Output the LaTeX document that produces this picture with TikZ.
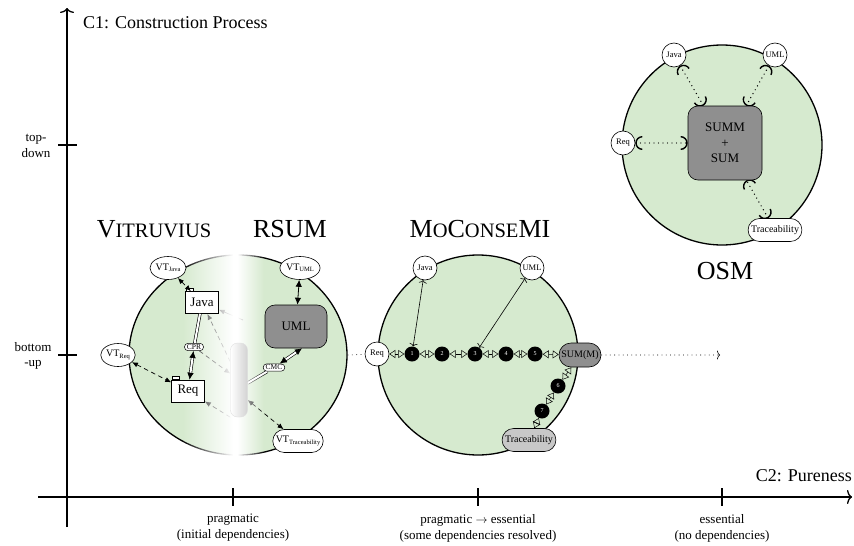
\documentclass[tikz,border=0pt]{standalone}
\usepackage{fontspec}
\setmainfont{Liberation Serif}
\usetikzlibrary{arrows.meta,shapes.geometric,shapes.misc,calc,fadings}
\definecolor{zonegreen}{RGB}{214,234,207}
\definecolor{modelgray}{RGB}{143,143,143}
\definecolor{tracegray}{RGB}{200,200,200}
\tikzfading[name=whiten in, left color=transparent!100, right color=transparent!0]
\tikzfading[name=whiten out, left color=transparent!0, right color=transparent!100]
\pgfdeclarelayer{zones}
\pgfdeclarelayer{veil}
\pgfdeclarelayer{top}
\pgfsetlayers{zones,main,veil,top}
\newcommand{\fsz}[1]{\fontsize{#1}{#1}\selectfont}
\newcommand{\vt}[1]{{\fsz{10}VT}{\fsz{6.5}\raisebox{-1.2pt}{#1}}}
\begin{document}
\begin{tikzpicture}[x=1pt,y=-1pt,
  axisline/.style={line width=1.3pt},
  zone/.style={draw, line width=1.3pt, fill=zonegreen, inner sep=0pt},
  smallnode/.style={circle, draw, fill=white, line width=0.6pt, minimum size=24pt, inner sep=0.5pt, font=\fsz{8.5}},
  vtnode/.style={ellipse, draw, fill=white, line width=0.6pt, inner sep=0.3pt, minimum height=23pt, minimum width=31pt},
  vtpill/.style={rounded rectangle, draw, fill=white, line width=0.6pt, inner xsep=2pt, inner ysep=0pt, minimum height=23pt},
  tracepill/.style={rounded rectangle, draw, line width=0.6pt, inner xsep=2pt, inner ysep=0pt, minimum height=23pt, font=\fsz{10}},
  sumpill/.style={rounded rectangle, draw, fill=modelgray, line width=0.6pt, inner xsep=1pt, inner ysep=0pt, minimum height=24pt, minimum width=44pt, font=\fsz{10}},
  pkg/.style={rectangle, draw, fill=white, line width=0.6pt, minimum width=33pt, minimum height=22pt, inner sep=0pt, font=\fsz{13}},
  modelbox/.style={rectangle, rounded corners=10pt, draw, fill=modelgray, line width=0.6pt, font=\fsz{13}},
  relbox/.style={rounded rectangle, draw, fill=white, line width=0.5pt, inner xsep=1.5pt, inner ysep=1.2pt, font=\fsz{7.5}},
  syncbar/.style={rectangle, rounded corners=7pt, draw=gray!25, left color=white, right color=gray!35, minimum width=17pt, minimum height=74pt},
  stepdot/.style={circle, fill=black, text=white, minimum size=15pt, inner sep=0pt, font=\fsz{6}},
  lat/.style={{Latex[length=6pt,width=5pt]}-{Latex[length=6pt,width=5pt]}},
  latend/.style={-{Latex[length=6pt,width=5pt]}},
  dsh/.style={line width=0.7pt, dash pattern=on 4.5pt off 3.5pt},
  dbl/.style={line width=0.6pt, double=white, double distance=2pt},
  dbltips/.style={{Latex[length=7pt,width=6.5pt]}-{Latex[length=7pt,width=6.5pt]}},
  stepchain/.style={line width=0.5pt, {Triangle[open,length=6pt,width=8pt]}-{Triangle[open,length=6pt,width=8pt]}},
  barbs/.style={line width=0.6pt, {To[length=3pt,width=8pt]}-{To[length=3pt,width=8pt]}},
  finedots/.style={line width=0.6pt, dash pattern=on 0.8pt off 3.5pt},
  osmlink/.style={line width=1.4pt, dash pattern=on 0pt off 4.5pt, line cap=round, {Arc Barb[length=7pt]}-{Arc Barb[length=7pt]}}
]
\useasboundingbox (0,0) rectangle (854,546);

% ---------- axes ----------
\coordinate (ybot) at (67,527);
\coordinate (ytop) at (67,8);
\coordinate (xleft) at (38,497);
\coordinate (xright) at (852,497);
\draw[axisline, -{To[length=5pt,width=14pt]}] (ybot) -- (ytop);
\draw[axisline, -{To[length=5pt,width=14pt]}] (xleft) -- (xright);
\foreach \yy in {145,355} \draw[axisline] (58,\yy) -- (77,\yy);
\foreach \xx in {233,478,722} \draw[axisline] (\xx,488) -- (\xx,506);

\node[font=\fsz{18}, anchor=base west, inner sep=0pt] (c1) at (83,28) {C1: Construction Process};
\node[font=\fsz{18}, anchor=base east, inner sep=0pt] (c2) at (852,481) {C2: Pureness};
\node[align=center, font=\fontsize{13}{15.5}\selectfont, inner sep=0pt] (lt) at (36,146) {top-\\down};
\node[align=center, font=\fontsize{13}{15.5}\selectfont, inner sep=0pt] (lb) at (33,356) {bottom\\-up};
\node[align=center, font=\fontsize{13}{16}\selectfont, inner sep=0pt] (l1) at (233,528) {pragmatic\\(initial dependencies)};
\node[align=center, font=\fontsize{13}{16}\selectfont, inner sep=0pt] (l2) at (478,528) {pragmatic $\rightarrow$ essential\\(some dependencies resolved)};
\node[align=center, font=\fontsize{13}{16}\selectfont, inner sep=0pt] (l3) at (722,528) {essential\\(no dependencies)};

% ---------- titles ----------
\node[anchor=base] (tvit) at (154,237) {{\fsz{26}V}{\fsz{20.5}ITRUVIUS}};
\node[anchor=base] (trsum) at (290,237) {\fsz{26}RSUM};
\node[anchor=base] (tmcm) at (480,237) {{\fsz{26}M}{\fsz{20.5}O}{\fsz{26}C}{\fsz{20.5}ONSE}{\fsz{26}MI}};
\node[anchor=base] (tosm) at (725,279) {\fsz{26}OSM};

% ---------- zones ----------
\begin{pgfonlayer}{zones}
  \node[zone, ellipse, minimum width=218pt, minimum height=200pt] (vr) at (238,355) {};
  \node[zone, circle, minimum size=200pt] (mz) at (478,355) {};
  \node[zone, circle, minimum size=200pt] (oz) at (722,145) {};
\end{pgfonlayer}

% white band between the Vitruvius and RSUM halves
\begin{pgfonlayer}{veil}
  \fill[white, path fading=whiten in] (182,240) rectangle (233,470);
  \fill[white] (232.5,240) rectangle (238,470);
  \fill[white, path fading=whiten out] (237.5,240) rectangle (264,470);
\end{pgfonlayer}

% ---------- Vitruvius / RSUM ----------
\begin{pgfonlayer}{top}
  \node[vtnode] (vtj) at (168,268) {\vt{Java}};
  \node[vtnode] (vtu) at (300,268) {\vt{UML}};
  \node[vtnode] (vtr) at (118,355) {\vt{Req}};
  \node[vtpill] (vtt) at (298,441) {\vt{Traceability}};
  \node[pkg] (java) at (202,302.5) {Java};
  \node[pkg] (req) at (188,391) {Req};
  \draw[fill=white, line width=0.6pt] ($(java.north west)+(1.5,0)$) rectangle ++(7,-3);
  \draw[fill=white, line width=0.6pt] ($(req.north west)+(1.5,0)$) rectangle ++(7,-3);
  \node[modelbox, minimum width=62pt, minimum height=43pt] (uml) at (296,326.5) {UML};
  \node[syncbar] (sync) at (239,380) {};
  \node[relbox] (cpr) at (194,347) {CPR};
  \node[relbox] (cmc) at (274,367.5) {CMC};

  \draw[dbl, dbltips] (java) -- (cpr) -- (req);
  \draw[dsh, lat] (vtj) -- (java);
  \draw[dsh, lat] (vtr) -- (req);
  \draw[line width=0.8pt, dbltips] (vtu) -- (uml);
\end{pgfonlayer}
\coordinate (bandlink) at (243,320);

\draw[line width=0.7pt, latend] (bandlink) -- (java);
\draw[dsh, latend] (sync) -- (java);
\draw[dsh, latend] (cpr) -- (sync);
\draw[dsh, latend] (sync.south west) -- (req);
\draw[dsh, lat] ($(sync.east)+(0,20)$) -- (vtt);
\draw[dbl, dbltips] ($(sync.east)+(0,3)$) -- (cmc) -- ($(uml.south)+(6,0)$);

% ---------- MoConseMI ----------
\begin{pgfonlayer}{top}
  \node[smallnode] (mjava) at (425,268) {Java};
  \node[smallnode] (muml) at (532,268) {UML};
  \node[smallnode] (mreq) at (377,354) {Req};
  \node[stepdot] (d1) at (412,354) {1};
  \node[stepdot] (d2) at (442,354) {2};
  \node[stepdot] (d3) at (475,354) {3};
  \node[stepdot] (d4) at (506,354) {4};
  \node[stepdot] (d5) at (535,354) {5};
  \node[sumpill] (summ) at (580,355) {SUM(M)};
  \node[stepdot] (d6) at (558,386) {6};
  \node[stepdot] (d7) at (542,411) {7};
  \node[tracepill, fill=tracegray] (mtrace) at (529,440) {Traceability};
\end{pgfonlayer}
\coordinate (osmgoal) at (720,355);

\draw[stepchain] (mreq) -- (d1);
\draw[stepchain] (d1) -- (d2);
\draw[stepchain] (d2) -- (d3);
\draw[stepchain] (d3) -- (d4);
\draw[stepchain] (d4) -- (d5);
\draw[stepchain] (d5) -- (summ);
\draw[stepchain] (summ) -- (d6);
\draw[stepchain] (d6) -- (d7);
\draw[stepchain] (d7) -- (mtrace);
\draw[barbs] (mjava) -- (d1);
\draw[barbs] (muml) -- (d3);
\draw[finedots, -{To[length=3pt,width=9pt]}] (summ) -- (osmgoal);
\draw[finedots] (vr.east) -- (mreq);

% ---------- OSM ----------
\begin{pgfonlayer}{top}
  \node[smallnode] (ojava) at (674,55) {Java};
  \node[smallnode] (ouml) at (775,55) {UML};
  \node[smallnode] (oreq) at (623,143) {Req};
  \node[tracepill, fill=white] (otrace) at (775,230) {Traceability};
  \node[modelbox, minimum width=74pt, minimum height=74pt, align=center, font=\fontsize{13}{15.5}\selectfont] (core) at (725,143) {SUMM\\+\\SUM};
\end{pgfonlayer}
\draw[osmlink] (ojava) -- (core);
\draw[osmlink] (ouml) -- (core);
\draw[osmlink] (oreq) -- (core);
\draw[osmlink] (otrace) -- (core);
\end{tikzpicture}
\end{document}
